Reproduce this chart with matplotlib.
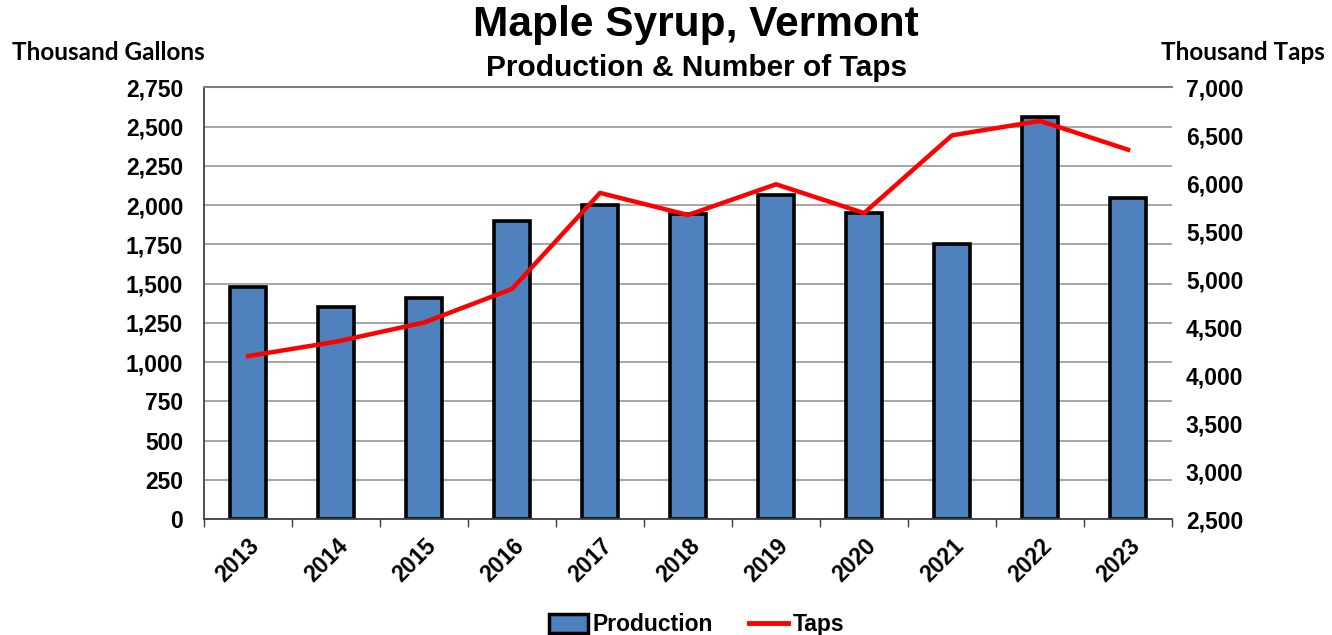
import matplotlib
matplotlib.use("Agg")
import matplotlib.pyplot as plt
import numpy as np
from matplotlib.lines import Line2D
from matplotlib.patches import Patch

years = ["2013", "2014", "2015", "2016", "2017", "2018", "2019", "2020", "2021", "2022", "2023"]
production = [1481, 1350, 1409, 1897, 2001, 1942, 2066, 1952, 1753, 2559, 2045]
taps = [4200, 4350, 4550, 4900, 5900, 5670, 5990, 5690, 6500, 6650, 6350]

plt.rcParams['font.family'] = ['Liberation Sans', 'DejaVu Sans']
plt.rcParams['font.weight'] = 'bold'

fig = plt.figure(figsize=(13.32, 6.35), dpi=100)
ax = fig.add_axes([0.1532, 0.1822, 0.7267, 0.6803])
x = np.arange(len(years))

ax.set_axisbelow(True)
ax.bar(x, production, width=0.4, color="#4F81BD", edgecolor="black", linewidth=2.6, zorder=2)
ax.set_xlim(-0.5, len(years) - 0.5)
ax.set_ylim(0, 2750)
ax.set_yticks(np.arange(0, 2751, 250))
ax.set_yticklabels([f"{v:,}" for v in range(0, 2751, 250)], fontsize=16.5, fontweight='bold')
ax.yaxis.grid(True, color="#a6a6a6", linewidth=1.4)
ax.tick_params(axis='y', length=0, pad=15)

ax.set_xticks(x)
ax.set_xticklabels(years, rotation=45, ha='right', rotation_mode='anchor',
                   fontsize=16.5, fontweight='bold')
ax.tick_params(axis='x', which='major', length=0, pad=11)
ax.set_xticks(np.arange(-0.5, len(years), 1), minor=True)
ax.tick_params(axis='x', which='minor', length=6, width=1, color="#404040", direction='out')

for side in ['left', 'bottom']:
    ax.spines[side].set_color("#404040")
    ax.spines[side].set_linewidth(1.3)
ax.spines['top'].set_color("#7f7f7f")
ax.spines['top'].set_linewidth(1.5)
ax.spines['right'].set_visible(False)

ax2 = ax.twinx()
ax2.plot(x, taps, color="#FF0000", linewidth=3.2, zorder=3)
ax2.set_ylim(2500, 7000)
ax2.set_yticks(np.arange(2500, 7001, 500))
ax2.set_yticklabels([f"{v:,}" for v in range(2500, 7001, 500)], fontsize=16.5, fontweight='bold')
ax2.tick_params(axis='y', length=0, pad=10)
for s in ax2.spines.values():
    s.set_visible(False)

fig.text(0.5228, 0.96, "Maple Syrup, Vermont", ha='center', va='center',
         fontsize=30.5, fontweight='bold')
fig.text(0.5228, 0.893, "Production & Number of Taps", ha='center', va='center',
         fontsize=21.5, fontweight='bold')
fig.text(12 / 1332, 0.917, "Thousand Gallons", ha='left', va='center',
         fontsize=17.5, fontweight='bold', family=['Lato', 'DejaVu Sans'])
fig.text(1325 / 1332, 0.917, "Thousand Taps", ha='right', va='center',
         fontsize=17.5, fontweight='bold', family=['Lato', 'DejaVu Sans'])

handles = [Patch(facecolor="#4F81BD", edgecolor="black", linewidth=2.5),
           Line2D([0], [0], color="#FF0000", linewidth=3.5)]
fig.legend(handles, ["Production", "Taps"], loc='center', bbox_to_anchor=(0.523, 0.016),
           ncol=2, frameon=False, handlelength=1.7, handleheight=0.9, handletextpad=0.2,
           columnspacing=1.6, prop={'weight': 'bold', 'size': 16.5})

fig.savefig("out.png", dpi=100)
